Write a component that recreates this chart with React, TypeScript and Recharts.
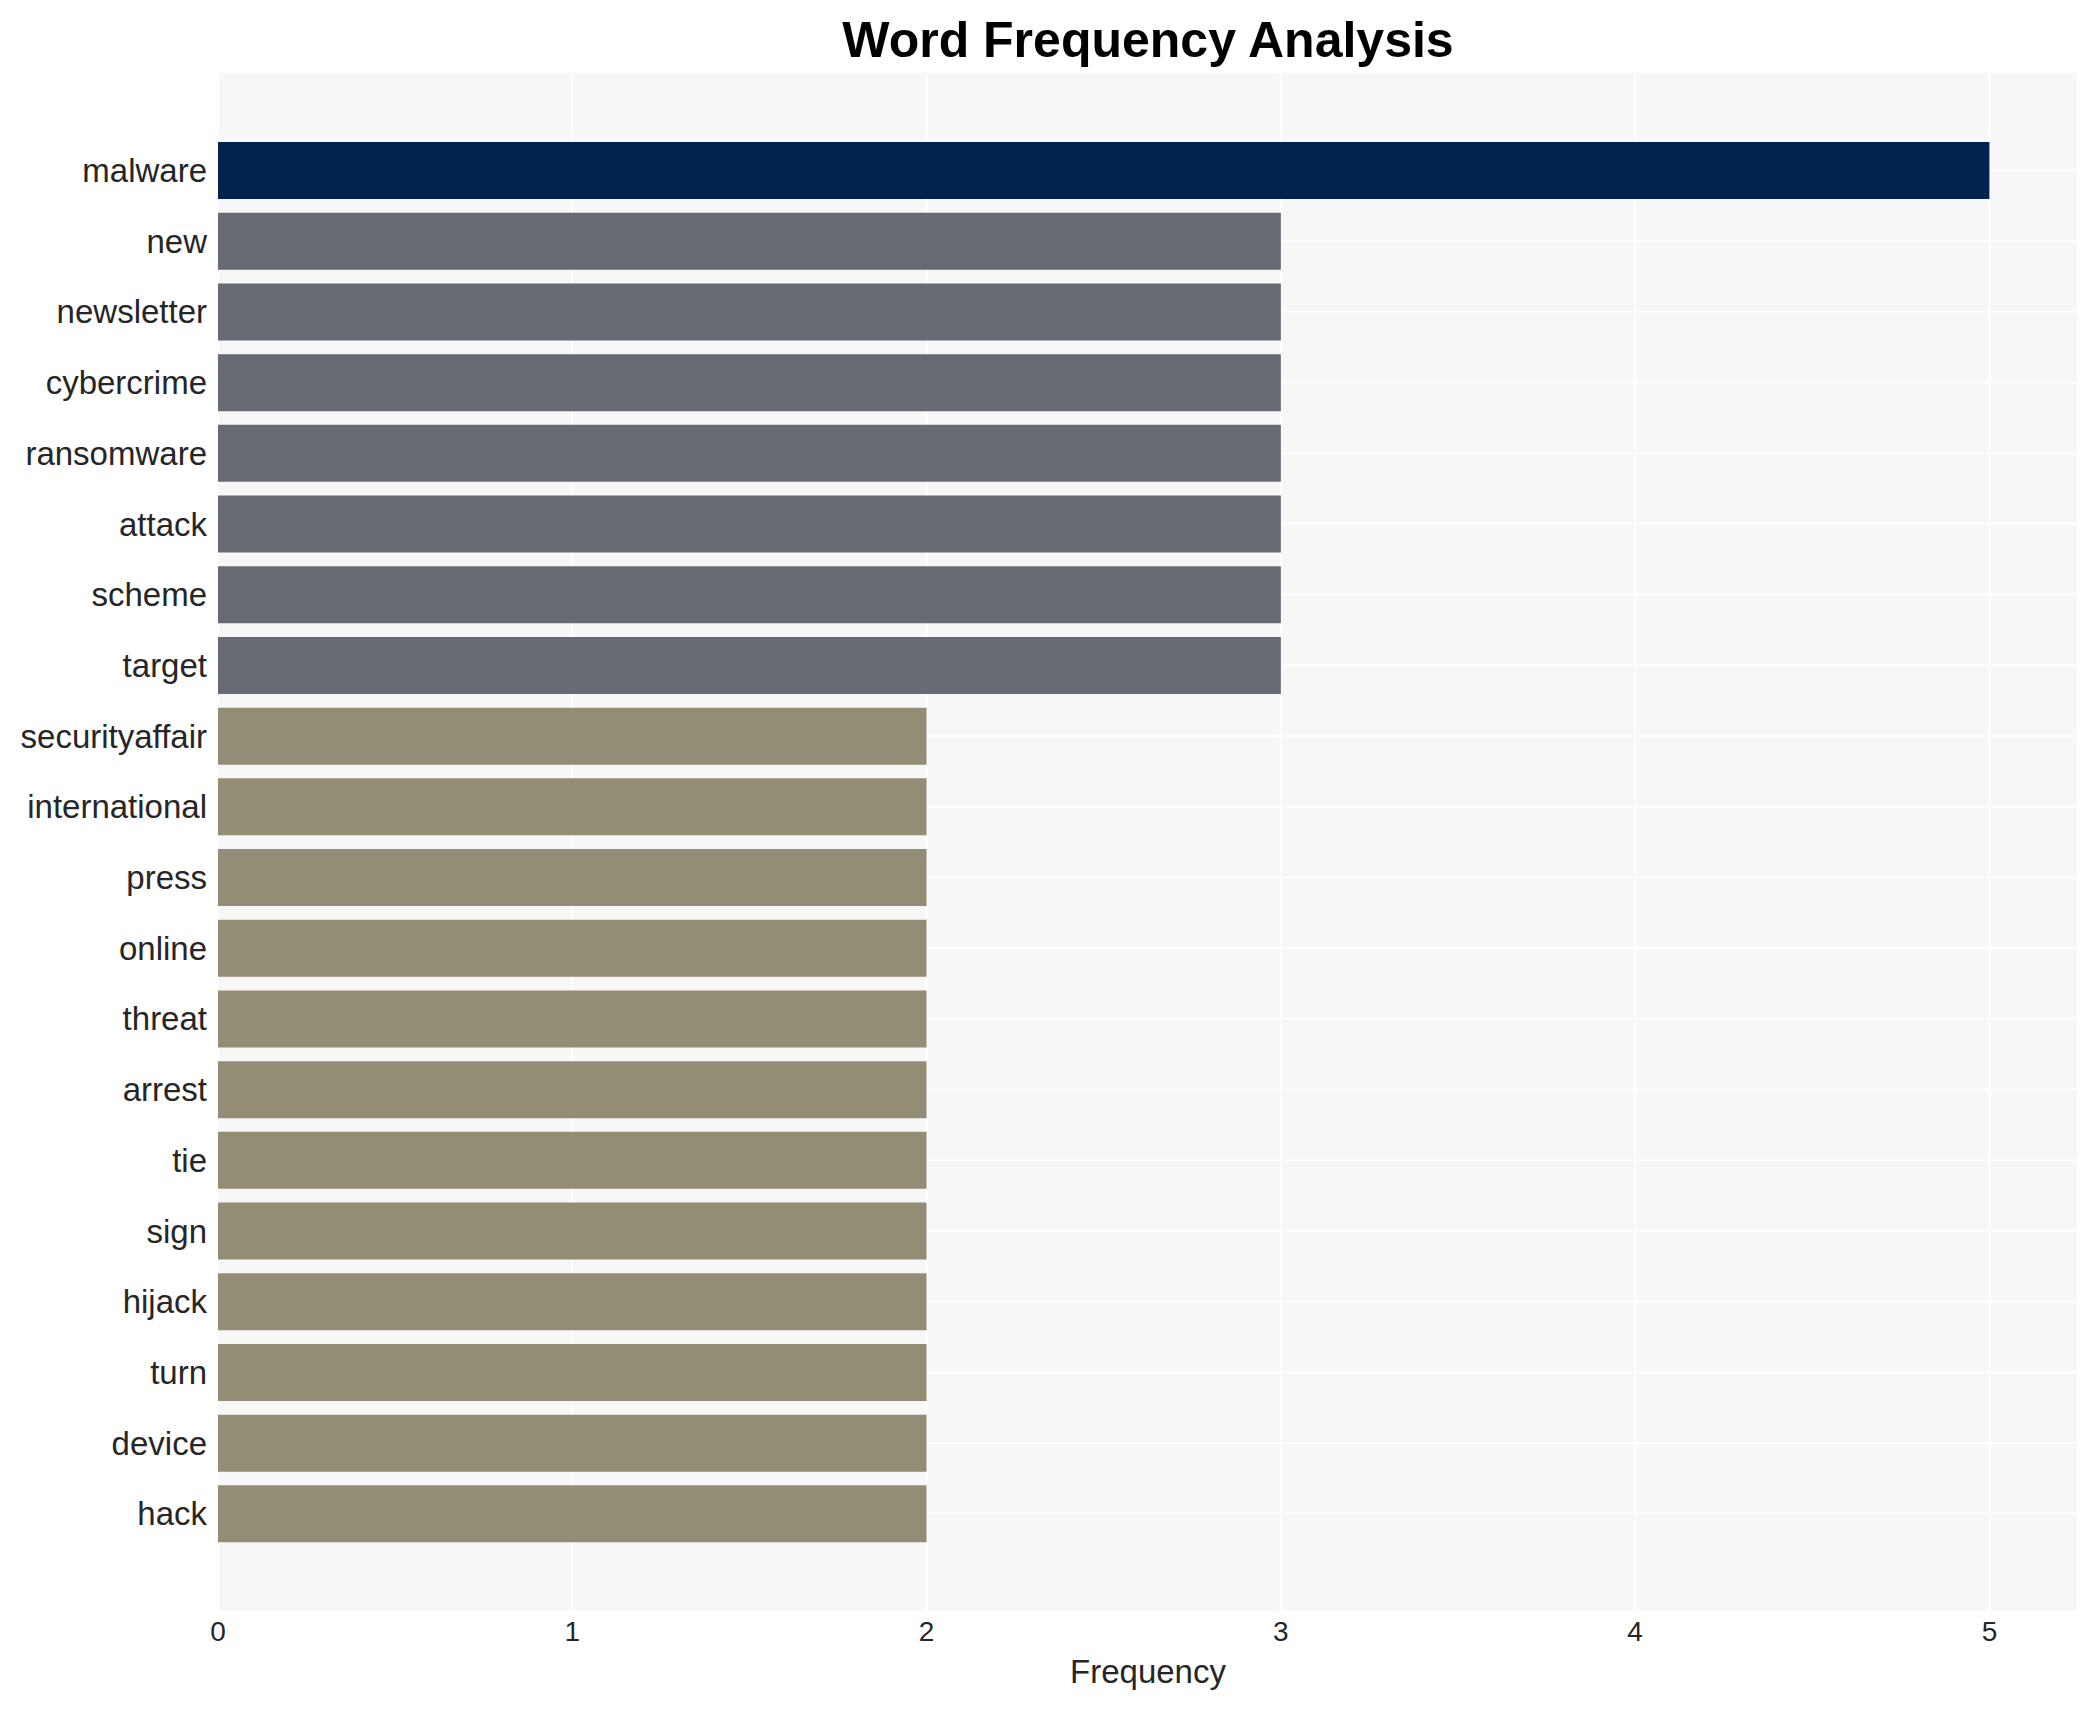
import React from 'react';
import { BarChart, Bar, XAxis, YAxis, CartesianGrid, Cell } from 'recharts';

const words = [
  'malware', 'new', 'newsletter', 'cybercrime', 'ransomware', 'attack', 'scheme', 'target',
  'securityaffair', 'international', 'press', 'online', 'threat', 'arrest', 'tie', 'sign',
  'hijack', 'turn', 'device', 'hack',
];
const counts = [5, 3, 3, 3, 3, 3, 3, 3, 2, 2, 2, 2, 2, 2, 2, 2, 2, 2, 2, 2];
const xTicks = [0, 1, 2, 3, 4, 5];

const FONT = '"Liberation Sans", Arial, Helvetica, sans-serif';

// top word gets navy, then gray, then the khaki tone
const barColor = (v: number) => (v >= 5 ? '#00234F' : v >= 3 ? '#676A72' : '#948D75');

const chartData = words.map((w, i) => ({ word: w, count: counts[i] }));

const XTick = ({ x, y, payload }: any) => (
  <text x={x} y={y + 29} textAnchor="middle" fontSize={28} fontFamily={FONT} fill="#262626">
    {payload.value}
  </text>
);

export default function App() {
  return (
    <div style={{ position: 'absolute', left: 0, top: 0, width: 2097, height: 1710, background: '#fff', fontFamily: FONT }}>
      <svg width={2097} height={80} style={{ position: 'absolute', left: 0, top: 0 }}>
        <text x={1148} y={57} textAnchor="middle" fontFamily={FONT} fontWeight="bold" fontSize={50} fill="#000">
          Word Frequency Analysis
        </text>
      </svg>
      <div style={{ position: 'absolute', left: 0, top: 0 }}>
        <BarChart
          width={2097}
          height={1710}
          data={chartData}
          layout="vertical"
          margin={{ top: 72, right: 19, bottom: 0, left: 0 }}
          barCategoryGap="10%"
        >
          <CartesianGrid fill="#F7F7F7" stroke="#FFFFFF" strokeWidth={2} />
          <XAxis
            type="number"
            domain={[0, 5.25]}
            ticks={xTicks}
            allowDataOverflow
            axisLine={false}
            tickLine={false}
            tickSize={0}
            tickMargin={0}
            height={98}
            tick={<XTick />}
            label={{ value: 'Frequency', position: 'insideBottom', offset: 27, fontSize: 33, fill: '#262626', fontFamily: FONT }}
          />
          <YAxis
            type="category"
            dataKey="word"
            width={218}
            padding={{ top: 63, bottom: 63 }}
            axisLine={false}
            tickLine={false}
            tickSize={0}
            tickMargin={11}
            interval={0}
            tick={{ fontSize: 33, fill: '#262626', fontFamily: FONT }}
          />
          <Bar dataKey="count" isAnimationActive={false}>
            {chartData.map((d, i) => (
              <Cell key={`cell-${i}`} fill={barColor(d.count)} />
            ))}
          </Bar>
        </BarChart>
      </div>
    </div>
  );
}
